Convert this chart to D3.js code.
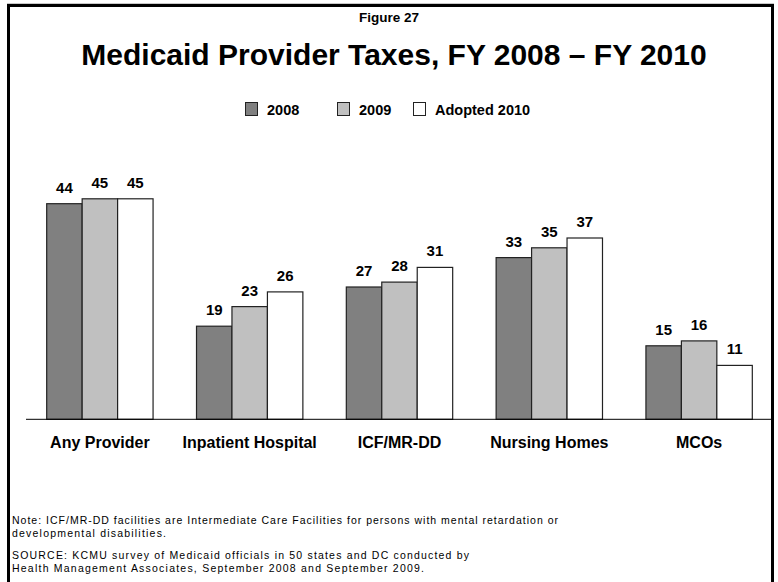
<!DOCTYPE html>
<html>
<head>
<meta charset="utf-8">
<script src="https://cdn.jsdelivr.net/npm/d3@7"></script>
<style>
  html, body { margin: 0; padding: 0; background: #fff; }
  svg { display: block; font-family: "Liberation Sans", Arial, sans-serif; }
</style>
</head>
<body>
<svg id="chart" width="778" height="582"></svg>
<script>
const categories = ["Any Provider", "Inpatient Hospital", "ICF/MR-DD", "Nursing Homes", "MCOs"];
const seriesNames = ["2008", "2009", "Adopted 2010"];
const values2008 = [44, 19, 27, 33, 15];
const values2009 = [45, 23, 28, 35, 16];
const values2010 = [45, 26, 31, 37, 11];
const seriesColors = ["#808080", "#c0c0c0", "#ffffff"];
const noteLines = [
  "Note: ICF/MR-DD facilities are Intermediate Care Facilities for persons with mental retardation or",
  "developmental disabilities."
];
const sourceLines = [
  "SOURCE: KCMU survey of Medicaid officials in 50 states and DC conducted by",
  "Health Management Associates, September 2008 and September 2009."
];

const series = [values2008, values2009, values2010];
const svg = d3.select("#chart");

// frame
svg.append("path")
  .attr("d", "M8.5,582 L8.5,5.5 L772.5,5.5 L772.5,582")
  .attr("fill", "none").attr("stroke", "#000").attr("stroke-width", 3);
svg.append("line").attr("x1", 7).attr("x2", 774).attr("y1", 3.5).attr("y2", 3.5)
  .attr("stroke", "#c8c8c8").attr("stroke-width", 1);

// titles
svg.append("text").attr("x", 389).attr("y", 22).attr("text-anchor", "middle")
  .attr("font-size", 13.5).attr("font-weight", "bold").text("Figure 27");
svg.append("text").attr("x", 394).attr("y", 64.5).attr("text-anchor", "middle")
  .attr("font-size", 30).attr("font-weight", "bold")
  .text("Medicaid Provider Taxes, FY 2008 \u2013 FY 2010");

// scales
const x0 = d3.scaleBand().domain(categories).range([46.7, 752.3]).paddingInner(0.29).paddingOuter(0);
const x1 = d3.scaleBand().domain(seriesNames).range([0, x0.bandwidth()]).padding(0);
const y = d3.scaleLinear().domain([0, 45]).range([419.3, 419.3 - 45 * 4.9]);

// bars
const groups = svg.append("g").selectAll("g").data(categories).join("g")
  .attr("transform", d => `translate(${x0(d)},0)`);
groups.selectAll("rect")
  .data((c, i) => seriesNames.map((s, j) => ({ s, j, v: series[j][i] })))
  .join("rect")
  .attr("x", d => x1(d.s))
  .attr("y", d => y(d.v))
  .attr("width", x1.bandwidth())
  .attr("height", d => y(0) - y(d.v))
  .attr("fill", d => seriesColors[d.j])
  .attr("stroke", "#222").attr("stroke-width", 1.2);
groups.selectAll("text.val")
  .data((c, i) => seriesNames.map((s, j) => ({ s, j, v: series[j][i] })))
  .join("text").attr("class", "val")
  .attr("x", d => x1(d.s) + x1.bandwidth() / 2)
  .attr("y", d => y(d.v) - 11)
  .attr("text-anchor", "middle")
  .attr("font-size", 15).attr("font-weight", "bold")
  .text(d => d.v);

// x axis
const xAxis = d3.axisBottom(x0).tickSize(0).tickPadding(0);
const axisG = svg.append("g").attr("transform", `translate(0,${y(0)})`).call(xAxis);
axisG.select(".domain").remove();
axisG.selectAll("text").attr("dy", null).attr("y", 29)
  .attr("font-size", 16).attr("font-weight", "bold")
  .attr("font-family", "Liberation Sans, Arial, sans-serif").attr("fill", "#000");
svg.append("line").attr("x1", 26).attr("x2", 772).attr("y1", y(0)).attr("y2", y(0))
  .attr("stroke", "#000").attr("stroke-width", 1);

// legend
const legendX = [245, 337, 413];
const leg = svg.append("g").selectAll("g").data(seriesNames).join("g")
  .attr("transform", (d, i) => `translate(${legendX[i]},102)`);
leg.append("rect").attr("x", 0.5).attr("y", 0.5).attr("width", 12).attr("height", 13)
  .attr("fill", (d, i) => seriesColors[i]).attr("stroke", "#222").attr("stroke-width", 1);
leg.append("text").attr("x", 22).attr("y", 12.5).attr("font-size", 14.5).attr("font-weight", "bold")
  .text(d => d);

// notes
const noteLens = [546, 154];
const sourceLens = [457, 412];
const noteG = svg.append("g").attr("font-size", 10.5).attr("fill", "#000");
noteLines.forEach((t, i) => noteG.append("text").attr("x", 12).attr("y", 524 + i * 13)
  .attr("textLength", noteLens[i]).attr("lengthAdjust", "spacing").text(t));
sourceLines.forEach((t, i) => noteG.append("text").attr("x", 12).attr("y", 559 + i * 13)
  .attr("textLength", sourceLens[i]).attr("lengthAdjust", "spacing").text(t));
</script>
</body>
</html>
